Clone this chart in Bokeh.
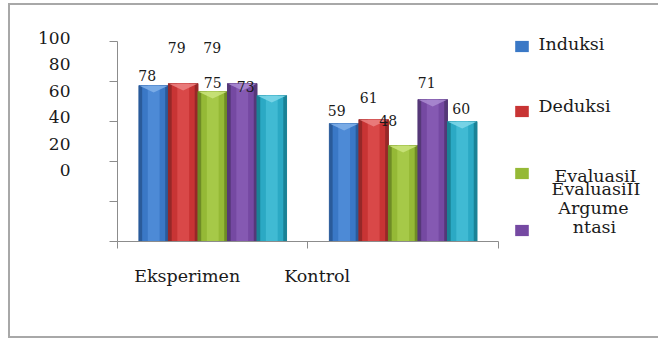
from bokeh.plotting import figure
from bokeh.models import (Range1d, LinearAxis, FixedTicker, Legend, LegendItem,
                          ColumnDataSource)
from bokeh.core.properties import value
from bokeh.embed import file_html
from bokeh.resources import INLINE

# ---------------- data ----------------
groups = ["Eksperimen", "Kontrol"]
series = ["Induksi", "Deduksi", "EvaluasiI", "EvaluasiII", "Argumentasi"]
eksperimen = [78, 79, 75, 79, 73]
kontrol = [59, 61, 48, 71, 60]
y_ticks = [0, 20, 40, 60, 80, 100]
legend_lines = ["Induksi", "Deduksi", "EvaluasiI", "EvaluasiII", "Argume", "ntasi"]

# ---------------- styles ----------------
c_edge = ["#2a5b9a", "#962828", "#6f8c26", "#553878", "#1a8296"]
c_main = ["#3a78c6", "#c83434", "#95b936", "#7549a2", "#2ba9c4"]
c_light = ["#4d8ad6", "#d94848", "#a6c948", "#8559b2", "#40bad3"]
c_top = ["#7eaee8", "#ea8080", "#c9e27a", "#a888cf", "#7cd6e8"]
FONT = "DejaVu Serif"
SERIF = value(FONT)
TXT = "#1a1a1a"
AX = "#8c8c8c"
BORDER = "#a8a8a8"

W, H = 658, 338
FL, FR, FT, FB = 117, 656, 20, 241      # frame edges (px)
PXX = 190.46                             # px per category
PXY = 2.0                                # px per value unit
XMAX = (FR - FL) / PXX
YMAX = (FB - FT) / PXY


def dx(px):   # screen x -> data x
    return (px - FL) / PXX


def dy(py):   # screen y -> data y
    return (FB - py) / PXY


g = f"linear-gradient({BORDER},{BORDER})"
border_css = ", ".join([
    f"{g} 8px 3px / 2px 335px no-repeat",
    f"{g} 8px 3px / 650px 2px no-repeat",
    f"{g} 8px 336px / 650px 2px no-repeat",
    "white",
])

p = figure(frame_width=FR - FL, frame_height=FB - FT,
           x_range=Range1d(0, XMAX), y_range=Range1d(0, YMAX),
           output_backend="svg", toolbar_location=None,
           min_border_left=FL, min_border_right=W - FR,
           min_border_top=FT, min_border_bottom=H - FB,
           styles={"background": border_css})
p.xgrid.visible = False
p.ygrid.visible = False
p.outline_line_color = None
p.background_fill_color = None
p.border_fill_color = None

# ---------------- bars ----------------
bw = 0.155
centers = [0.5, 1.5]
legend_renderers = []
label_x, label_y, label_t = [], [], []
# label offsets (px): right/left, up
off_e = [(-6.5, 10), (-6.5, 36), (0, 9), (-30, 36), (-26, 9)]
off_k = [(-7.5, 13), (-5, 22), (-15, 25), (-6, 17), (-1, 13)]
for i, name in enumerate(series):
    xs = [c + (i - 2) * bw for c in centers]
    tops = [eksperimen[i], kontrol[i]]
    src = ColumnDataSource(dict(x=xs, top=tops))
    p.vbar(x="x", top="top", width=bw, source=src, fill_color=c_edge[i],
           line_color=c_edge[i], line_width=1)
    r = p.vbar(x="x", top="top", width=bw * 0.78, source=src, fill_color=c_main[i],
               line_color=None)
    p.vbar(x="x", top="top", width=bw * 0.4, source=src, fill_color=c_light[i],
           line_color=None)
    legend_renderers.append(r)
    tri_x = [[x - bw / 2, x + bw / 2, x] for x in xs]
    tri_y = [[t, t, t - 3.5] for t in tops]
    p.patches(tri_x, tri_y, fill_color=c_top[i], line_color=None, fill_alpha=0.9)
    for j, (x, t) in enumerate(zip(xs, tops)):
        ox, oy = (off_e if j == 0 else off_k)[i]
        label_x.append(x + ox / PXX)
        label_y.append(t + oy / PXY)
        label_t.append(str(t))

p.text(x=label_x, y=label_y, text=label_t, text_font=SERIF, text_font_size="14px",
       text_align="center", text_baseline="middle", text_color=TXT)

# ---------------- axes ----------------
ya = p.yaxis[0]
ya.ticker = FixedTicker(ticks=y_ticks)
ya.major_label_overrides = {t: "" for t in y_ticks}
ya.major_label_text_font_size = "1px"
ya.major_label_standoff = 0
ya.major_tick_in = 0
ya.major_tick_out = 8
ya.minor_tick_line_color = None
ya.axis_line_color = AX
ya.major_tick_line_color = AX
ya.bounds = (0, 100)

xa = p.xaxis[0]
xa.ticker = FixedTicker(ticks=[0, 1, 2])
xa.major_label_overrides = {0: "", 1: "", 2: ""}
xa.major_label_text_font_size = "1px"
xa.major_label_standoff = 0
xa.major_tick_in = 0
xa.major_tick_out = 7
xa.minor_tick_line_color = None
xa.axis_line_color = AX
xa.major_tick_line_color = AX
xa.bounds = (0, 2)

# tick labels drawn (offset as in the reference) on companion axes
p.extra_y_ranges = {"lab": Range1d(-(FB - 169.5) / 1.32, (169.5 - FT) / 1.32)}
yl = LinearAxis(y_range_name="lab", ticker=FixedTicker(ticks=y_ticks),
                axis_line_color=None, major_tick_line_color=None,
                minor_tick_line_color=None, major_label_standoff=33,
                major_label_text_font=FONT, major_label_text_font_size="17px",
                major_label_text_color=TXT)
p.add_layout(yl, "left")

p.extra_x_ranges = {"cat": Range1d((FL - 186.7) / 130.0, (FR - 186.7) / 130.0)}
xl = LinearAxis(x_range_name="cat", ticker=FixedTicker(ticks=[0, 1]),
                major_label_overrides={0: groups[0], 1: groups[1]},
                axis_line_color=None, major_tick_line_color=None,
                minor_tick_line_color=None, major_label_standoff=11,
                major_label_text_font=FONT, major_label_text_font_size="17.5px",
                major_label_text_color=TXT)
p.add_layout(xl, "below")

# ---------------- legend keys ----------------
sq_tops = [38.5, 103.5, 166, 222.5]
key_style = dict(padding=0, margin=0, spacing=0, glyph_width=17, glyph_height=14,
                 label_width=0, label_height=14, label_standoff=0,
                 label_text_font_size="1px", border_line_color=None,
                 background_fill_alpha=0)
for i, r in enumerate(legend_renderers[:4]):
    lg = Legend(items=[LegendItem(label=" ", renderers=[r])],
                location=(513 - FL, FB - (sq_tops[i] + 14)), **key_style)
    p.add_layout(lg)

leg_px = [(538, 43, "left"), (538, 105, "left"), (595, 175, "center"),
          (595.5, 188.5, "center"), (593, 207.5, "center"), (594, 226.5, "center")]
for (px, py, al), t in zip(leg_px, legend_lines):
    p.text(x=[dx(px)], y=[dy(py)], text=[t], text_font=SERIF, text_font_size="17.5px",
           text_align=al, text_baseline="middle", text_color=TXT)

open("out.html", "w").write(file_html(p, INLINE))
